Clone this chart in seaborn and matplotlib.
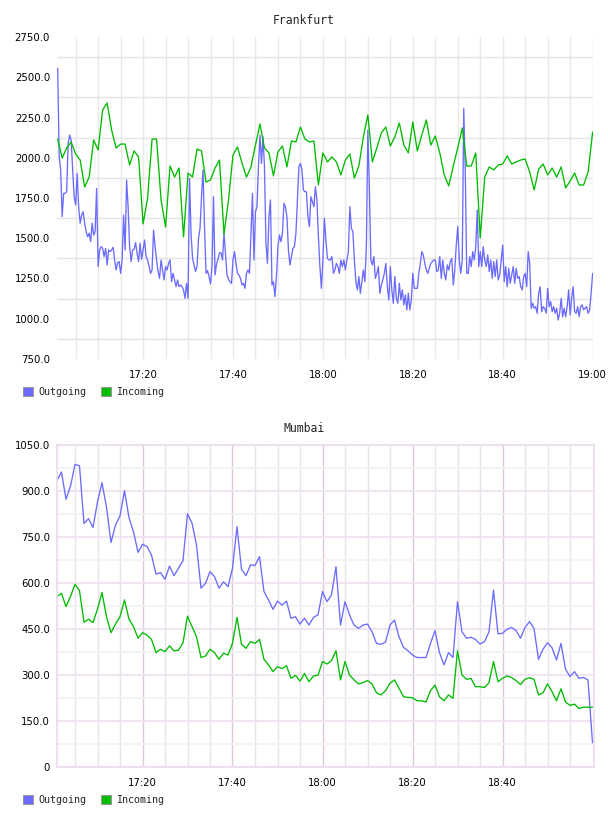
import numpy as np
import pandas as pd
import matplotlib
matplotlib.use("Agg")
import matplotlib.pyplot as plt
import matplotlib.dates as mdates
from matplotlib.ticker import FixedLocator, FuncFormatter
from matplotlib.patches import Patch
import seaborn as sns

# ---------------- data ----------------
series_names = ["Outgoing", "Incoming"]
titles = ["Frankfurt", "Mumbai"]

# Frankfurt outgoing, sampled every ~20 s from 17:01 to 19:00
frankfurt_outgoing = [
    # 17:01 - 17:30
    2555, 2007, 1924, 1634, 1779, 1779, 1789, 2090, 2141, 2110,
    1924, 1758, 1707, 1903, 1696, 1593, 1644, 1665, 1593, 1541,
    1510, 1531, 1479, 1593, 1520, 1541, 1810, 1324, 1427, 1448,
    1437, 1386, 1437, 1334, 1427, 1417, 1427, 1444, 1365, 1303,
    1348, 1355, 1282, 1365, 1644, 1427, 1862, 1696, 1448, 1355,
    1427, 1431, 1473, 1406, 1355, 1469, 1369, 1427, 1489, 1386,
    1365, 1324, 1282, 1303, 1551, 1448, 1365, 1293, 1251, 1365,
    1303, 1241, 1324, 1303, 1344, 1365, 1230, 1282, 1241, 1199,
    1241, 1199, 1210, 1199, 1179, 1127, 1220, 1127, 1872,
    # 17:30 - 18:00
    1531, 1375, 1334, 1293, 1324, 1500, 1562, 1758, 1924, 1572,
    1282, 1299, 1262, 1216, 1324, 1758, 1272, 1340, 1369, 1410,
    1410, 1365, 1531, 1406, 1272, 1245, 1230, 1220, 1365, 1417,
    1344, 1282, 1272, 1251, 1210, 1220, 1189, 1282, 1303, 1282,
    1531, 1779, 1365, 1665, 1696, 1945, 2141, 1965, 2131, 1945,
    1469, 1344, 1634, 1738, 1210, 1230, 1137, 1262, 1448, 1520,
    1479, 1531, 1717, 1696, 1634, 1427, 1334, 1386, 1437, 1448,
    1531, 1738, 1945, 1965, 1924, 1800, 1789, 1789, 1634, 1572,
    1758, 1727, 1696, 1820, 1738, 1510, 1324, 1189, 1365, 1624,
    # 18:00 - 18:30
    1489, 1375, 1365, 1365, 1386, 1282, 1303, 1344, 1324, 1282,
    1365, 1324, 1365, 1303, 1365, 1417, 1696, 1562, 1541, 1365,
    1230, 1179, 1262, 1158, 1230, 1303, 1230, 1448, 2172, 1820,
    1365, 1334, 1386, 1251, 1282, 1324, 1158, 1210, 1241, 1282,
    1344, 1199, 1117, 1324, 1179, 1096, 1262, 1127, 1096, 1220,
    1117, 1179, 1086, 1148, 1055, 1158, 1055, 1117, 1282, 1189,
    1189, 1189, 1282, 1344, 1417, 1396, 1344, 1303, 1282, 1313,
    1344, 1355, 1365, 1365, 1293, 1303, 1386, 1251, 1365, 1282,
    1241, 1334, 1303, 1355, 1375, 1210, 1303, 1458, 1572, 1365,
    # 18:30 - 19:00
    1282, 1365, 2307, 1924, 1282, 1282, 1386, 1324, 1417, 1365,
    1448, 1675, 1324, 1417, 1324, 1448, 1365, 1324, 1396, 1293,
    1365, 1251, 1355, 1262, 1365, 1241, 1272, 1365, 1458, 1230,
    1324, 1199, 1313, 1220, 1272, 1324, 1220, 1313, 1251, 1262,
    1199, 1179, 1262, 1282, 1199, 1417, 1344, 1065, 1096, 1065,
    1075, 1034, 1158, 1199, 1044, 1075, 1065, 1034, 1189, 1075,
    1106, 1044, 1075, 1034, 1065, 992, 1034, 1127, 1013, 1065,
    1013, 1075, 1179, 1023, 1127, 1199, 1044, 1034, 1075, 1013,
    1075, 1086, 1055, 1065, 1075, 1034, 1055, 1158, 1282,
]

# Frankfurt incoming, one value per minute 17:01 - 19:00
frankfurt_incoming = [
    2116, 1998, 2061, 2098, 2023, 1986, 1818, 1880, 2110, 2048,
    2297, 2340, 2172, 2061, 2085, 2085, 1955, 2042, 2005, 1589,
    1750, 2116, 2116, 1738, 1570, 1949, 1880, 1936, 1508, 1905,
    1880, 2054, 2042, 1849, 1862, 1936, 1986, 1526, 1738, 2017,
    2067, 1967, 1880, 1943, 2079, 2210, 2061, 2030, 1887, 2036,
    2073, 1943, 2104, 2098, 2191, 2116, 2098, 2104, 1831, 2030,
    1974, 2005, 1974, 1893, 1986, 2023, 1874, 1949, 2129, 2266,
    1974, 2061, 2154, 2191, 2073, 2129, 2216, 2079, 2030, 2222,
    2042, 2141, 2235, 2079, 2135, 2030, 1893, 1825, 1949, 2061,
    2185, 1949, 1949, 2030, 1502, 1880, 1943, 1924, 1955, 1961,
    2011, 1961, 1974, 1986, 1992, 1911, 1800, 1930, 1961, 1893,
    1936, 1880, 1943, 1812, 1856, 1905, 1831, 1831, 1911, 2160,
]

# Mumbai, one value per minute 17:01 - 19:00
mumbai_outgoing = [
    934, 962, 873, 916, 987, 982, 794, 810, 781, 865,
    927, 847, 732, 789, 819, 901, 813, 767, 700, 726,
    719, 691, 629, 634, 612, 655, 624, 648, 673, 826,
    795, 724, 583, 599, 637, 621, 583, 604, 588, 648,
    784, 645, 624, 659, 657, 686, 572, 545, 514, 541,
    528, 541, 485, 490, 466, 485, 463, 488, 496, 572,
    539, 561, 653, 463, 539, 496, 463, 452, 463, 466,
    441, 403, 400, 407, 463, 479, 425, 390, 379, 365,
    357, 357, 357, 403, 445, 373, 333, 373, 357, 539,
    441, 420, 423, 416, 401, 409, 441, 577, 434, 436,
    449, 455, 445, 420, 455, 474, 452, 351, 384, 405,
    389, 349, 403, 319, 295, 311, 289, 292, 284, 79,
]
mumbai_incoming = [
    556, 566, 523, 556, 596, 575, 472, 482, 471, 515,
    569, 490, 438, 466, 490, 545, 482, 458, 420, 438,
    430, 416, 373, 384, 376, 395, 379, 381, 405, 492,
    458, 425, 357, 362, 384, 373, 351, 371, 365, 403,
    488, 400, 387, 409, 403, 416, 351, 333, 311, 327,
    321, 330, 289, 299, 280, 305, 278, 297, 299, 344,
    336, 347, 379, 284, 344, 300, 284, 271, 275, 282,
    271, 242, 235, 249, 273, 284, 257, 229, 227, 226,
    216, 216, 212, 249, 267, 229, 216, 235, 224, 379,
    300, 286, 289, 262, 262, 259, 275, 344, 278, 289,
    297, 292, 282, 269, 286, 291, 286, 235, 242, 271,
    246, 216, 255, 212, 201, 205, 191, 195, 195, 195,
]

frankfurt_yticks = [750, 1000, 1250, 1500, 1750, 2000, 2250, 2500, 2750]
mumbai_yticks = [0, 150, 300, 450, 600, 750, 900, 1050]
time_labels = ["17:20", "17:40", "18:00", "18:20", "18:40", "19:00"]

# ---------------- frames ----------------
DAY = "2024-01-01 "
t_fast = pd.date_range(DAY + "17:01:00", DAY + "19:00:00", periods=len(frankfurt_outgoing))
t_min = pd.date_range(DAY + "17:01:00", periods=len(frankfurt_incoming), freq="1min")

df_f = pd.concat([
    pd.DataFrame({"time": t_fast, "value": frankfurt_outgoing, "series": series_names[0]}),
    pd.DataFrame({"time": t_min, "value": frankfurt_incoming, "series": series_names[1]}),
], ignore_index=True)
df_m = pd.concat([
    pd.DataFrame({"time": t_min, "value": mumbai_outgoing, "series": series_names[0]}),
    pd.DataFrame({"time": t_min, "value": mumbai_incoming, "series": series_names[1]}),
], ignore_index=True)

# ---------------- style ----------------
sns.set_theme(style="white")
plt.rcParams['font.family'] = ['DejaVu Sans']

BLUE = "#6b6bff"
GREEN = "#00bb00"
palette = {series_names[0]: BLUE, series_names[1]: GREEN}
MONO = "DejaVu Sans Mono"

fig = plt.figure(figsize=(6.08, 8.16), dpi=100)
W, H = 608.0, 816.0
ax1 = fig.add_axes([57 / W, (H - 359) / H, 536 / W, 322 / H])
ax2 = fig.add_axes([57 / W, (H - 767) / H, 537 / W, 322 / H])

for ax, df in ((ax1, df_f), (ax2, df_m)):
    sns.lineplot(data=df, x="time", y="value", hue="series", hue_order=series_names,
                 palette=palette, estimator=None, linewidth=0.95, ax=ax, legend=False)
    ax.set_xlabel("")
    ax.set_ylabel("")
    ax.set_axisbelow(True)

def tnum(s):
    return mdates.date2num(pd.Timestamp(DAY + s))

five_min = [tnum(f"{h}:{m:02d}:00") for h in (17, 18) for m in range(0, 60, 5)] + [tnum("19:00:00")]
five_min = [v for v in five_min if v > tnum("17:01:00")]
label_pos = [tnum(s + ":00") for s in time_labels]

def xfmt(v, pos):
    for p, lab in zip(label_pos, time_labels):
        if abs(v - p) < 1e-6:
            return lab
    return ""

def yfmt(v, pos):
    return "0" if v == 0 else f"{v:.1f}"

# --- top: Frankfurt ---
ax1.set_xlim(tnum("17:00:51"), tnum("19:00:05"))
ax1.set_ylim(frankfurt_yticks[0], frankfurt_yticks[-1])
ax1.yaxis.set_major_locator(FixedLocator(frankfurt_yticks))
ax1.yaxis.set_minor_locator(FixedLocator([v + 125 for v in frankfurt_yticks[:-1]]))
ax1.yaxis.set_major_formatter(FuncFormatter(yfmt))
ax1.xaxis.set_major_locator(FixedLocator(five_min))
ax1.xaxis.set_major_formatter(FuncFormatter(xfmt))
ax1.grid(False)
ax1.grid(True, which="minor", axis="y", color="#e4e4e4", linewidth=1.0)
ax1.grid(True, which="major", axis="x", color="#e9e9e9", linewidth=1.0)
for s in ax1.spines.values():
    s.set_visible(False)

# --- bottom: Mumbai ---
ax2.set_xlim(tnum("17:01:00"), tnum("19:00:20"))
ax2.set_ylim(mumbai_yticks[0], mumbai_yticks[-1])
ax2.yaxis.set_major_locator(FixedLocator(mumbai_yticks))
ax2.yaxis.set_minor_locator(FixedLocator([v + 75 for v in mumbai_yticks[:-1]]))
ax2.yaxis.set_major_formatter(FuncFormatter(yfmt))
ax2.xaxis.set_major_locator(FixedLocator(label_pos[:-1]))
ax2.xaxis.set_minor_locator(FixedLocator([v for v in five_min if v < tnum("18:59:00")]))
ax2.xaxis.set_major_formatter(FuncFormatter(xfmt))
ax2.grid(False)
ax2.grid(True, which="major", axis="y", color="#f0e2f0", linewidth=1.3)
ax2.grid(True, which="minor", axis="y", color="#f2f2f2", linewidth=1.3)
ax2.grid(True, which="major", axis="x", color="#dcc8dc", linewidth=1.0)
ax2.grid(True, which="minor", axis="x", color="#eae4ea", linewidth=1.0)
for s in ax2.spines.values():
    s.set_visible(True)
    s.set_color("#eadcee")
    s.set_linewidth(1.2)

for ax in (ax1, ax2):
    ax.tick_params(axis="both", which="both", length=0, labelsize=7.3, colors="#000000")
    ax.tick_params(axis="y", pad=5)
    ax.tick_params(axis="x", pad=8)

# titles
fig.text(0.5, 1 - 20 / H, titles[0], ha="center", va="center", family=MONO, fontsize=8.3)
fig.text(0.5, 1 - 429 / H, titles[1], ha="center", va="center", family=MONO, fontsize=8.3)

# legends
handles = [Patch(facecolor=BLUE, edgecolor="#999999", linewidth=0.8),
           Patch(facecolor=GREEN, edgecolor="#999999", linewidth=0.8)]
for yc in (392, 800):
    fig.legend(handles=handles, labels=series_names, loc="center left",
               bbox_to_anchor=(23 / W, 1 - yc / H), ncol=2, frameon=False,
               borderpad=0, borderaxespad=0, handlelength=1.0, handleheight=1.0,
               handletextpad=0.5, columnspacing=1.5,
               prop={"family": MONO, "size": 7.2})

fig.savefig("out.png", dpi=100)
